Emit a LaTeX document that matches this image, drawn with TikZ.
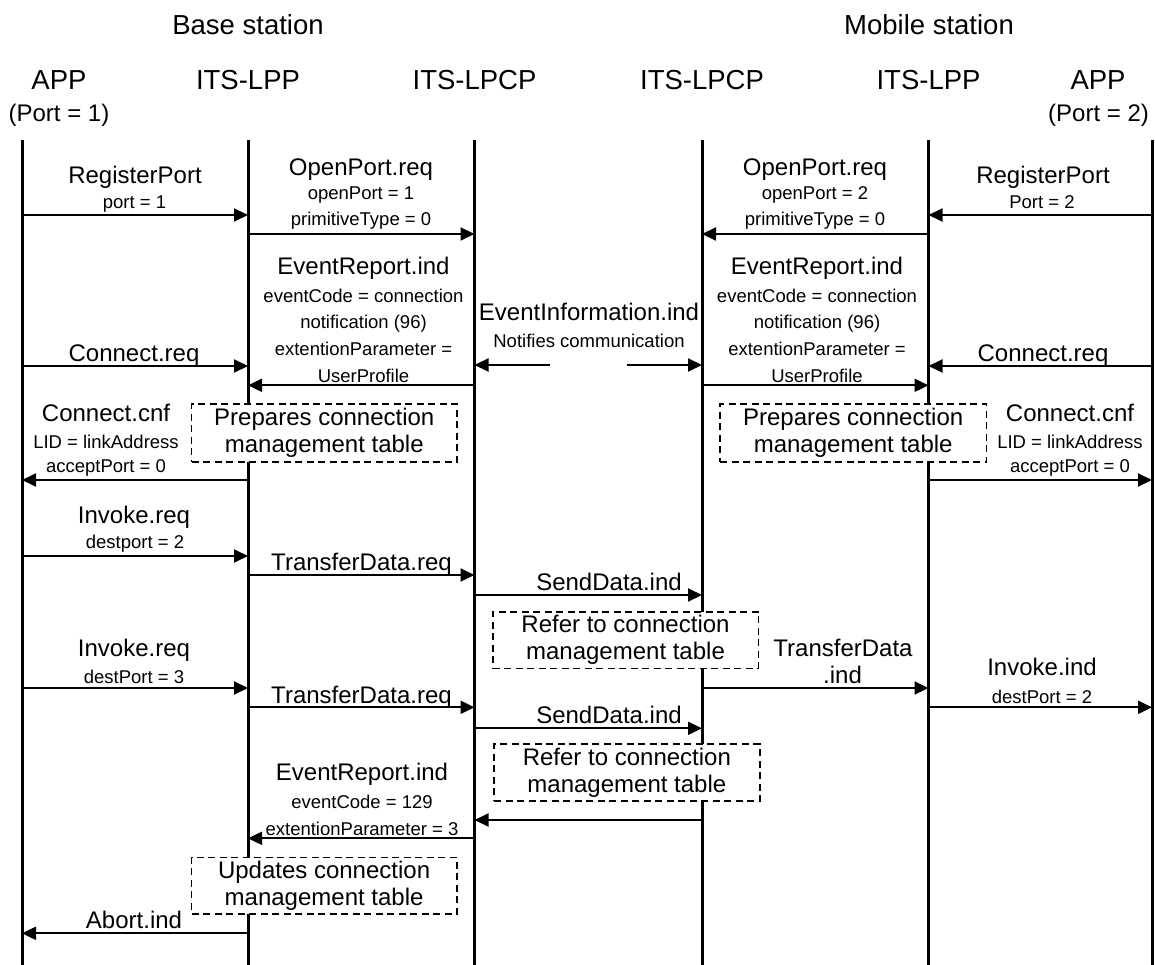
\documentclass[tikz,border=0pt]{standalone}
\usepackage{fontspec}
\setmainfont{Liberation Sans}
\usetikzlibrary{arrows.meta}
\begin{document}
\begin{tikzpicture}[x=1pt,y=-1pt,
  hdr/.style={font=\fontsize{27.5}{30}\selectfont, anchor=base, inner sep=0pt},
  lbl/.style={font=\fontsize{24}{27}\selectfont, anchor=base, inner sep=0pt},
  sub/.style={font=\fontsize{18.5}{22}\selectfont, anchor=base, inner sep=0pt},
  life/.style={line width=3pt},
  msg/.style={line width=2pt, -{Triangle[length=14pt,width=13pt]}},
  note/.style={draw, fill=white, line width=1.6pt, dash pattern=on 7pt off 4.5pt,
    font=\fontsize{24}{27}\selectfont, align=center, inner sep=0pt}]
\useasboundingbox (0,0) rectangle (1155,965);

% lifelines
\coordinate (A1) at (22,140);   \coordinate (A1b) at (22,965);
\coordinate (L1) at (248,140);  \coordinate (L1b) at (248,965);
\coordinate (C1) at (474.5,140);\coordinate (C1b) at (474.5,965);
\coordinate (C2) at (702,140);  \coordinate (C2b) at (702,965);
\coordinate (L2) at (928.5,140);\coordinate (L2b) at (928.5,965);
\coordinate (A2) at (1152,140); \coordinate (A2b) at (1152,965);
\foreach \t in {A1,L1,C1,C2,L2,A2} \draw[life] (\t) -- (\t b);

% headers
\node[hdr] (bs) at (248,35) {Base station};
\node[hdr] (ms) at (929,35) {Mobile station};
\node[hdr] (h1) at (59,90) {APP};
\node[lbl] (p1) at (59,122) {(Port = 1)};
\node[hdr] (h2) at (248,90) {ITS-LPP};
\node[hdr] (h3) at (474.5,90) {ITS-LPCP};
\node[hdr] (h4) at (702,90) {ITS-LPCP};
\node[hdr] (h5) at (928.5,90) {ITS-LPP};
\node[hdr] (h6) at (1098,90) {APP};
\node[lbl] (p2) at (1098.5,122) {(Port = 2)};

% ---- left side
\node[lbl] (m1) at (135,183.3) {RegisterPort};
\node[sub] (m1a) at (134.5,208.5) {port = 1};
\draw[msg] (A1 |- 0,215) -- (L1 |- 0,215);

\node[lbl] (m2) at (361,176) {OpenPort.req};
\node[sub] (m2a) at (361,199.5) {openPort = 1};
\node[sub] (m2b) at (361,226) {primitiveType = 0};
\draw[msg] (L1 |- 0,234) -- (C1 |- 0,234);

\node[lbl] (m3) at (363.5,275) {EventReport.ind};
\node[sub] (m3a) at (363.5,302) {eventCode = connection};
\node[sub] (m3b) at (363.5,328.5) {notification (96)};
\node[sub] (m3c) at (363.5,355) {extentionParameter =};
\node[sub] (m3d) at (363.5,382) {UserProfile};
\draw[msg] (C1 |- 0,385.3) -- (L1 |- 0,385.3);

\node[lbl] (m4) at (589,320) {EventInformation.ind};
\node[sub] (m4a) at (589,347) {Notifies communication};
\coordinate (ei1) at (550,365);
\coordinate (ei2) at (626.7,365);
\draw[msg] (ei1) -- (C1 |- ei1);
\draw[msg] (ei2) -- (C2 |- ei2);

\node[lbl] (m5) at (134,361.7) {Connect.req};
\draw[msg] (A1 |- 0,366) -- (L1 |- 0,366);

\node[lbl] (m6) at (106,421.7) {Connect.cnf};
\node[sub] (m6a) at (106,448) {LID = linkAddress};
\node[sub] (m6b) at (106,472) {acceptPort = 0};
\draw[msg] (L1 |- 0,480) -- (A1 |- 0,480);

\node[note, minimum width=265.4pt, minimum height=57.7pt] (b1) at (324.3,432.85)
  {Prepares connection\\management table};

\node[lbl] (m7) at (134,523.3) {Invoke.req};
\node[sub] (m7a) at (135,548) {destport = 2};
\draw[msg] (A1 |- 0,556) -- (L1 |- 0,556);

\node[lbl] (m8) at (361.5,570) {TransferData.req};
\draw[msg] (L1 |- 0,575) -- (C1 |- 0,575);

\node[lbl] (m9) at (609,590) {SendData.ind};
\draw[msg] (C1 |- 0,595) -- (C2 |- 0,595);

\node[note, minimum width=265.6pt, minimum height=56.6pt] (b2) at (625.5,640)
  {Refer to connection\\management table};

\node[lbl] (m10) at (134,656.7) {Invoke.req};
\node[sub] (m10a) at (134,683) {destPort = 3};
\draw[msg] (A1 |- 0,688) -- (L1 |- 0,688);

\node[lbl] (m11) at (361.5,703.3) {TransferData.req};
\draw[msg] (L1 |- 0,707.3) -- (C1 |- 0,707.3);

\node[lbl] (m12) at (609,723.3) {SendData.ind};
\draw[msg] (C1 |- 0,728.3) -- (C2 |- 0,728.3);

\node[note, minimum width=265.7pt, minimum height=57pt] (b3) at (626.85,772.5)
  {Refer to connection\\management table};

\draw[msg] (C2 |- 0,820) -- (C1 |- 0,820);

\node[lbl] (m13) at (362,780) {EventReport.ind};
\node[sub] (m13a) at (362,808) {eventCode = 129};
\node[sub] (m13b) at (362,835) {extentionParameter = 3};
\draw[msg] (C1 |- 0,838.3) -- (L1 |- 0,838.3);

\node[note, minimum width=265.2pt, minimum height=56.7pt] (b4) at (324.1,885.65)
  {Updates connection\\management table};

\node[lbl] (m14) at (134,928) {Abort.ind};
\draw[msg] (L1 |- 0,933.3) -- (A1 |- 0,933.3);

% ---- right side
\node[lbl] (r1) at (815,176) {OpenPort.req};
\node[sub] (r1a) at (815,199.5) {openPort = 2};
\node[sub] (r1b) at (815,226) {primitiveType = 0};
\draw[msg] (L2 |- 0,234) -- (C2 |- 0,234);

\node[lbl] (r2) at (1043,183.3) {RegisterPort};
\node[sub] (r2a) at (1042,209) {Port = 2};
\draw[msg] (A2 |- 0,215) -- (L2 |- 0,215);

\node[lbl] (r3) at (817,275) {EventReport.ind};
\node[sub] (r3a) at (817,302) {eventCode = connection};
\node[sub] (r3b) at (817,328.5) {notification (96)};
\node[sub] (r3c) at (817,355) {extentionParameter =};
\node[sub] (r3d) at (817,382) {UserProfile};
\draw[msg] (C2 |- 0,385.3) -- (L2 |- 0,385.3);

\node[lbl] (r4) at (1043,361.7) {Connect.req};
\draw[msg] (A2 |- 0,366) -- (L2 |- 0,366);

\node[note, minimum width=266.4pt, minimum height=57.7pt] (b5) at (853.2,432.85)
  {Prepares connection\\management table};

\node[lbl] (r5) at (1070,421.7) {Connect.cnf};
\node[sub] (r5a) at (1070,448) {LID = linkAddress};
\node[sub] (r5b) at (1070,472) {acceptPort = 0};
\draw[msg] (L2 |- 0,480) -- (A2 |- 0,480);

\node[lbl] (r6) at (843,656.7) {TransferData};
\node[lbl] (r6a) at (842.5,683.3) {.ind};
\draw[msg] (C2 |- 0,688) -- (L2 |- 0,688);

\node[lbl] (r7) at (1042,675) {Invoke.ind};
\node[sub] (r7a) at (1042,703) {destPort = 2};
\draw[msg] (L2 |- 0,707.3) -- (A2 |- 0,707.3);
\end{tikzpicture}
\end{document}
